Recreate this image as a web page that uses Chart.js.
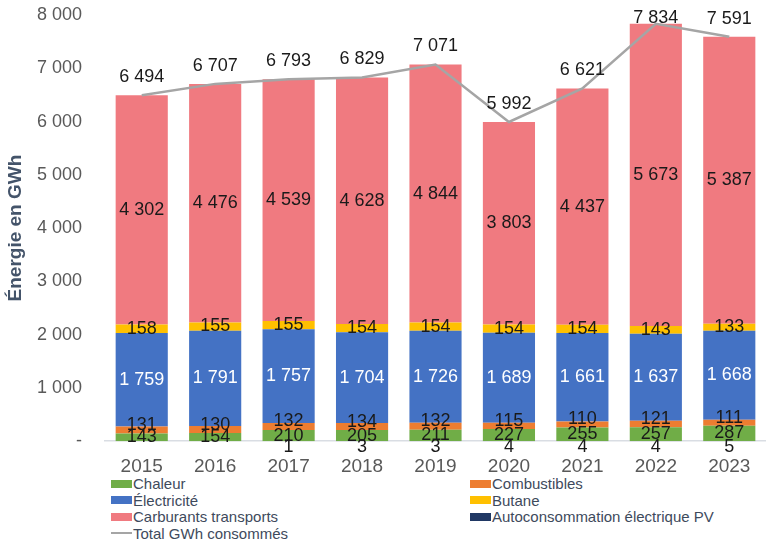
<!DOCTYPE html>
<html lang="fr">
<head>
<meta charset="utf-8">
<script src="https://cdn.jsdelivr.net/npm/chart.js@4.4.1/dist/chart.umd.min.js"></script>
<style>
  html, body { margin: 0; padding: 0; background: #fff; }
  body { width: 766px; height: 543px; position: relative; overflow: hidden;
         font-family: "Liberation Sans", Arial, sans-serif; }
  #wrap { position: absolute; left: 0; top: 0; width: 766px; height: 475px; }
  #legend { position: absolute; left: 0; top: 475px; width: 766px; }
  .item { position: absolute; height: 17px; line-height: 17px; font-size: 15px;
          color: #3e4a5c; white-space: nowrap; display: flex; align-items: center; }
  .sw { width: 21px; height: 8px; margin-right: 1px; }
  .sw.line { height: 2px; background: #a5a5a5; }
</style>
</head>
<body>
<div id="wrap"><canvas id="chart" width="766" height="475"></canvas></div>
<div id="legend"></div>
<script>
// === データ ===
const years = ["2015", "2016", "2017", "2018", "2019", "2020", "2021", "2022", "2023"];
const chaleur = [143, 154, 210, 205, 211, 227, 255, 257, 287];
const combustibles = [131, 130, 132, 134, 132, 115, 110, 121, 111];
const electricite = [1759, 1791, 1757, 1704, 1726, 1689, 1661, 1637, 1668];
const butane = [158, 155, 155, 154, 154, 154, 154, 143, 133];
const carburants = [4302, 4476, 4539, 4628, 4844, 3803, 4437, 5673, 5387];
const autoconsoPV = [0, 0, 1, 3, 3, 4, 4, 4, 5];
const totals = [6494, 6707, 6793, 6829, 7071, 5992, 6621, 7834, 7591];
const yTicks = [0, 1000, 2000, 3000, 4000, 5000, 6000, 7000, 8000];

const FONT = '"Liberation Sans", Arial, sans-serif';
const fmt = v => String(v).replace(/\B(?=(\d{3})+(?!\d))/g, " ");

// === データセット ===
const total = { type: "line", label: "Total GWh consommés", data: totals, stack: "total",
  borderColor: "#a5a5a5", borderWidth: 2.5, pointRadius: 0, tension: 0, order: -1,
  labelColor: "#1a1a1a", legendCol: 0, legendRow: 3 };
const bars = [
  { label: "Autoconsommation électrique PV", data: autoconsoPV, backgroundColor: "#203864",
    labelColor: "#1a1a1a", labelDy: 6, legendCol: 1, legendRow: 2 },
  { label: "Chaleur", data: chaleur, backgroundColor: "#70ad47",
    labelColor: "#1a1a1a", legendCol: 0, legendRow: 0 },
  { label: "Combustibles", data: combustibles, backgroundColor: "#ed7d31",
    labelColor: "#1a1a1a", labelDy: -5, legendCol: 1, legendRow: 0 },
  { label: "Électricité", data: electricite, backgroundColor: "#4472c4",
    labelColor: "#ffffff", legendCol: 0, legendRow: 1 },
  { label: "Butane", data: butane, backgroundColor: "#ffc000",
    labelColor: "#1a1a1a", legendCol: 1, legendRow: 1 },
  { label: "Carburants transports", data: carburants, backgroundColor: "#f07a80",
    labelColor: "#1a1a1a", legendCol: 0, legendRow: 2 }
].map(d => ({ ...d, type: "bar", stack: "energie", barPercentage: 0.71, categoryPercentage: 1 }));

// === 値ラベル ===
const valueLabels = {
  id: "valueLabels",
  afterDatasetsDraw(chart) {
    const ctx = chart.ctx;
    chart.data.datasets.forEach((ds, i) => {
      const meta = chart.getDatasetMeta(i);
      ctx.save();
      ctx.font = "18px " + FONT;
      ctx.fillStyle = ds.labelColor;
      ctx.textAlign = "center";
      ctx.textBaseline = "middle";
      meta.data.forEach((el, j) => {
        const v = ds.data[j];
        if (!v) return;
        const y = ds.type === "line" ? Math.max(el.y - 18, 18) : (el.y + el.base) / 2 + (ds.labelDy || 0);
        ctx.fillText(fmt(v), el.x, y);
      });
      ctx.restore();
    });
  }
};

// === グラフ ===
const chart = new Chart(document.getElementById("chart"), {
  data: { labels: years, datasets: [total, ...bars] },
  plugins: [valueLabels],
  options: {
    responsive: false,
    animation: false,
    layout: { padding: 0 },
    plugins: { legend: { display: false }, tooltip: { enabled: false } },
    scales: {
      x: {
        stacked: true,
        grid: { display: false, drawTicks: false },
        border: { display: true, color: "#d9dde3", width: 1.5 },
        ticks: { color: "#595959", font: { family: FONT, size: 19 }, padding: 14 },
        afterFit: s => { s.height = 33; }
      },
      y: {
        stacked: true,
        min: 0, max: 8000,
        afterBuildTicks: s => { s.ticks = yTicks.map(v => ({ value: v })); },
        grid: { display: false, drawTicks: false },
        border: { display: false },
        ticks: { color: "#595959", font: { family: FONT, size: 18 }, padding: 23,
                 callback: v => v === 0 ? "-" : fmt(v) },
        title: { display: true, text: "Énergie en GWh", color: "#44546a",
                 font: { family: FONT, size: 19, weight: "bold" }, padding: 4 },
        afterFit: s => { s.width = 105; s.paddingTop = 15; }
      }
    }
  }
});

// === 凡例 ===
const legend = document.getElementById("legend");
[...bars, total].forEach(ds => {
  const it = document.createElement("div");
  it.className = "item";
  it.style.left = (ds.legendCol ? 470 : 111) + "px";
  it.style.top = (ds.legendRow * 16.5) + "px";
  const sw = document.createElement("span");
  sw.className = ds.type === "line" ? "sw line" : "sw";
  if (ds.type !== "line") sw.style.background = ds.backgroundColor;
  it.appendChild(sw);
  it.appendChild(document.createTextNode(ds.label));
  legend.appendChild(it);
});
</script>
</body>
</html>
